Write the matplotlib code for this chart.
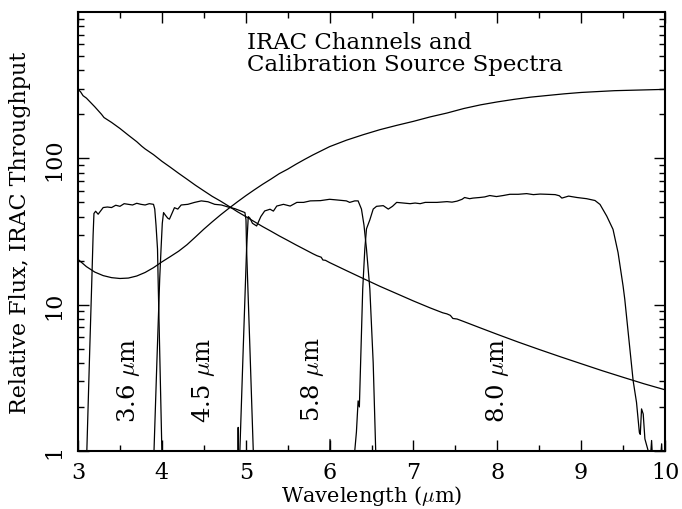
import matplotlib
matplotlib.use("Agg")
import matplotlib.pyplot as plt
from matplotlib.ticker import FixedLocator, LogLocator, MultipleLocator, NullFormatter

plt.rcParams['font.family'] = ['DejaVu Serif']
plt.rcParams['mathtext.fontset'] = 'cm'

# calibration source 1 (falling spectrum)
wave_a = [3.0, 3.03, 3.06, 3.1, 3.2, 3.28, 3.31, 3.4, 3.5, 3.6, 3.7, 3.76, 3.8, 3.9,
          4.0, 4.1, 4.2, 4.3, 4.4, 4.5, 4.6, 4.7, 4.8, 4.9, 5.0, 5.1, 5.2, 5.3, 5.4,
          5.5, 5.6, 5.7, 5.8, 5.85, 5.9, 5.92, 5.95, 6.0, 6.2, 6.4, 6.6, 6.8, 7.0,
          7.2, 7.35, 7.40, 7.44, 7.47, 7.52, 7.6, 7.8, 8.0, 8.25, 8.5, 8.75, 9.0,
          9.25, 9.5, 9.75, 10.0]
flux_a = [296, 285, 268, 258, 225, 200, 190, 176, 160, 144, 130, 121, 116, 106,
          95.5, 87, 79, 72, 65.5, 60, 55, 51, 47, 43.2, 40, 37, 34.2, 31.8, 29.5,
          27.5, 25.6, 23.9, 22.3, 21.6, 21.1, 20.2, 20.1, 19.4, 17.1, 15.1, 13.35, 11.9, 10.6,
          9.5, 8.8, 8.65, 8.45, 8.05, 7.98, 7.67, 6.93, 6.27, 5.55, 4.94, 4.41, 3.95,
          3.54, 3.19, 2.88, 2.62]

# calibration source 2 (rising spectrum)
wave_b = [3.0, 3.1, 3.2, 3.3, 3.4, 3.5, 3.6, 3.7, 3.8, 3.9, 4.0, 4.1, 4.2, 4.3, 4.4,
          4.5, 4.6, 4.7, 4.8, 4.9, 5.0, 5.1, 5.2, 5.3, 5.4, 5.5, 5.6, 5.7, 5.8, 6.0,
          6.2, 6.4, 6.6, 6.8, 7.0, 7.2, 7.4, 7.6, 7.8, 8.0, 8.2, 8.4, 8.6, 8.8, 9.0,
          9.2, 9.4, 9.6, 9.8, 10.0]
flux_b = [20.4, 18.2, 16.7, 15.8, 15.3, 15.1, 15.2, 15.7, 16.6, 17.9, 19.6, 21.3, 23.2, 25.7, 29.0,
          32.8, 36.8, 41.1, 45.6, 50.4, 55.5, 60.8, 66.4, 72.1, 78.6, 84.3, 91.2, 98.2, 105.4, 120.2,
          133, 145, 157, 168, 179, 192, 204, 219, 232, 243, 253, 262, 269, 276, 282,
          286, 290, 292, 294, 296]

# IRAC channel throughputs
wave_ch1 = [3.05, 3.105, 3.14, 3.165, 3.18, 3.19, 3.21, 3.24, 3.30, 3.35, 3.40, 3.45,
            3.50, 3.55, 3.60, 3.65, 3.70, 3.75, 3.80, 3.85, 3.90, 3.915, 3.93, 3.948,
            3.955, 3.977, 4.0, 4.02]
thru_ch1 = [0.3, 1.0, 5, 15, 30, 42, 43.5, 41.5, 46.1, 46.5, 46.1, 47.8,
            47, 49, 48.5, 48, 49.3, 48.5, 48, 49, 48.5, 45, 35, 24,
            15, 4, 1.0, 0.3]

wave_ch2 = [3.88, 3.906, 3.94, 3.974, 3.99, 4.005, 4.02, 4.04, 4.07, 4.09, 4.12, 4.15,
            4.19, 4.23, 4.31, 4.39, 4.47, 4.55, 4.63, 4.71, 4.79, 4.87, 4.95, 4.99,
            5.003, 5.01, 5.05, 5.09, 5.11]
thru_ch2 = [0.3, 1.0, 4, 15, 24, 36, 42.6, 41, 39, 38.4, 42, 46,
            45, 48, 48.5, 50, 51.2, 50.5, 48.5, 48, 46.5, 45.3, 43.5, 42.6,
            38, 24, 5, 1.0, 0.3]

wave_ch3 = [4.89, 4.905, 4.91, 4.915, 4.93, 4.97, 5.01, 5.03, 5.05, 5.08, 5.13, 5.18,
            5.226, 5.29, 5.33, 5.37, 5.45, 5.53, 5.61, 5.69, 5.77, 5.89, 6.0, 6.08,
            6.2, 6.24, 6.30, 6.34, 6.38, 6.41, 6.44, 6.48, 6.52, 6.55, 6.57]
thru_ch3 = [0.3, 0.5, 1.45, 0.6, 1.0, 5, 24, 40, 39, 36, 34.5, 40,
            43.7, 44.9, 43.6, 47.2, 48.5, 47.2, 50, 50, 51.2, 51.4, 52.5, 52,
            51.2, 50, 51.2, 51.2, 45, 35, 24, 12.8, 4, 1.0, 0.3]

wave_ch4 = [5.98, 5.995, 6.005, 6.02, 6.28, 6.30, 6.32, 6.34, 6.355, 6.395, 6.42, 6.44,
            6.48, 6.52, 6.56, 6.64, 6.70, 6.75, 6.80, 6.88, 6.96, 7.02, 7.08, 7.14,
            7.20, 7.28, 7.34, 7.40, 7.46, 7.52, 7.58, 7.61, 7.67, 7.71, 7.79, 7.85,
            7.91, 7.99, 8.07, 8.15, 8.25, 8.35, 8.43, 8.51, 8.59, 8.69, 8.74, 8.77,
            8.85, 8.95, 9.065, 9.165, 9.225, 9.305, 9.38, 9.44, 9.50, 9.52, 9.62, 9.66,
            9.694, 9.705, 9.72, 9.74, 9.76, 9.80, 9.82, 9.84, 9.86, 9.94, 9.96, 9.98]
thru_ch4 = [0.3, 0.5, 1.2, 0.3, 0.3, 1.0, 1.35, 2.2, 2.0, 12.8, 24, 33,
            38, 45, 47, 47.5, 45, 47, 50, 49.5, 49, 49.5, 49, 50,
            50, 50, 50.3, 50.6, 50.2, 51, 52.5, 54, 53, 53.5, 54, 54.5,
            55.7, 54.8, 55.7, 56.8, 56.8, 57.4, 56.5, 57, 56.8, 56.5, 55.5, 53.5,
            55.2, 54, 53, 51.5, 48.4, 40.3, 32.7, 22.7, 13.4, 10.9, 3.02, 2.15,
            1.34, 1.3, 1.94, 1.79, 1.21, 1.0, 0.8, 1.18, 0.7, 0.8, 1.12, 0.6]

channel_labels = ["3.6 $\\mu$m", "4.5 $\\mu$m", "5.8 $\\mu$m", "8.0 $\\mu$m"]
label_wave = [3.6, 4.5, 5.8, 8.0]

fig = plt.figure(figsize=(6.82, 5.10), dpi=100)
ax = fig.add_axes([0.1144, 0.1137, 0.8607, 0.8608])

lw = 0.9
ax.plot(wave_a, flux_a, color='black', lw=lw)
ax.plot(wave_b, flux_b, color='black', lw=lw)
ax.plot(wave_ch1, thru_ch1, color='black', lw=lw)
ax.plot(wave_ch2, thru_ch2, color='black', lw=lw)
ax.plot(wave_ch3, thru_ch3, color='black', lw=lw)
ax.plot(wave_ch4, thru_ch4, color='black', lw=lw)

ax.set_yscale('log')
ax.set_xlim(3, 10)
ax.set_ylim(1, 1000)

ax.xaxis.set_major_locator(MultipleLocator(1))
ax.xaxis.set_minor_locator(MultipleLocator(0.5))
ax.yaxis.set_major_locator(FixedLocator([1, 10, 100]))
ax.yaxis.set_minor_locator(LogLocator(base=10, subs=range(2, 10)))
ax.yaxis.set_minor_formatter(NullFormatter())
ax.set_yticklabels(['1', '10', '100'])

ax.tick_params(which='both', direction='in', top=True, right=True, width=1.0,
               labelsize=16)
ax.tick_params(which='major', length=8)
ax.tick_params(which='minor', length=4)
ax.tick_params(axis='x', pad=7)
ax.tick_params(axis='y', labelrotation=90, pad=9)
for t in ax.get_yticklabels():
    t.set_va('center')

for s in ax.spines.values():
    s.set_linewidth(1.5)

ax.set_xlabel("Wavelength ($\\mu$m)", fontsize=15, labelpad=0)
ax.set_ylabel("Relative Flux, IRAC Throughput", fontsize=16, labelpad=9)

ax.text(0.288, 0.957, "IRAC Channels and\nCalibration Source Spectra",
        transform=ax.transAxes, ha='left', va='top', fontsize=16.5, linespacing=1.0)

for w, lab in zip(label_wave, channel_labels):
    ax.text(w, 3.1, lab, rotation=90, ha='center', va='center', fontsize=17.5)

fig.savefig("out.png", dpi=100)
